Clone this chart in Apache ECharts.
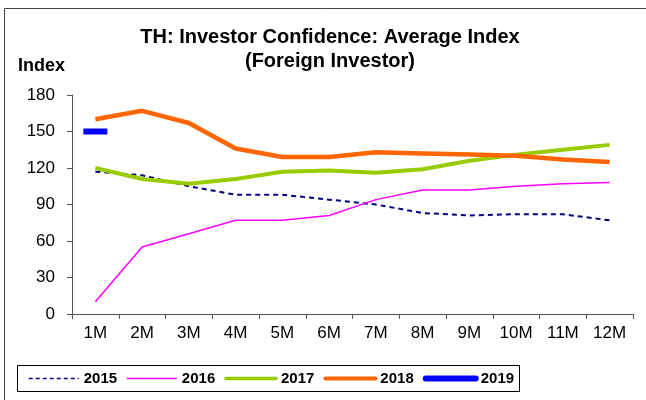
<!DOCTYPE html>
<html>
<head>
<meta charset="utf-8">
<script src="https://cdn.jsdelivr.net/npm/echarts@6/dist/echarts.min.js"></script>
<style>
  html, body { margin: 0; padding: 0; background: #fff; }
  #main { width: 646px; height: 400px; }
</style>
</head>
<body>
<div id="main"></div>
<script>
	/*************** TH investor confidence, foreign investor **************/
	var months = ['1M','2M','3M','4M','5M','6M','7M','8M','9M','10M','11M','12M'];
	var yTicks = [0, 30, 60, 90, 120, 150, 180];
	var y2015 = [117, 114, 105, 98, 98, 94, 90, 83, 81, 82, 82, 77];
	var y2016 = [10, 55, 66, 77, 77, 81, 94, 102, 102, 105, 107, 108];
	var y2017 = [120, 111, 107, 111, 117, 118, 116, 119, 126, 131, 135, 139];
	var y2018 = [160, 167, 157, 136, 129, 129, 133, 132, 131, 130, 127, 125];
	var y2019 = [150, null, null, null, null, null, null, null, null, null, null, null];

	var font = 'Liberation Sans, Arial, sans-serif';
	var chart = echarts.init(document.getElementById('main'));
	var opt = {
		animation: false,
		title: {
			text: 'TH: Investor Confidence: Average Index\n(Foreign Investor)',
			left: 325,
			top: 20,
			textAlign: 'center',
			textStyle: {
				fontFamily: font,
				fontSize: 20,
				fontWeight: 'bold',
				color: '#000',
				lineHeight: 24
			}
		},
		graphic: [
			{ type: 'polyline', shape: { points: [[4.5, 400], [4.5, 8.5], [646, 8.5]] },
			  style: { stroke: '#444', lineWidth: 1, fill: null } },
			{ type: 'text', left: 18, top: 57,
			  style: { text: 'Index', font: 'bold 18px ' + font, fill: '#000' } },
			{ type: 'rect', shape: { x: 17.5, y: 365.5, width: 502, height: 26 },
			  style: { stroke: '#000', lineWidth: 1, fill: null } }
		],
		legend: {
			left: 23,
			top: 366,
			itemWidth: 50,
			itemHeight: 14,
			itemGap: 9,
			textStyle: { fontFamily: font, fontSize: 15, fontWeight: 'bold', color: '#000' },
			data: [
				{ name: '2015', itemStyle: { opacity: 0 }, lineStyle: { width: 1.5, type: [4, 3], color: '#000080' } },
				{ name: '2016', itemStyle: { opacity: 0 }, lineStyle: { width: 1.5, color: '#ff00ff' } },
				{ name: '2017', itemStyle: { opacity: 0 }, lineStyle: { width: 3.5, color: '#99cc00', cap: 'round' } },
				{ name: '2018', itemStyle: { opacity: 0 }, lineStyle: { width: 4, color: '#ff6600', cap: 'round' } },
				{ name: '2019', itemStyle: { opacity: 0 }, lineStyle: { width: 6, color: '#0000ff', cap: 'round' } }
			]
		},
		grid: { left: 72, right: 13, top: 95, bottom: 86 },
		xAxis: {
			type: 'category',
			data: months,
			boundaryGap: true,
			axisLine: { lineStyle: { color: '#555', width: 1 } },
			axisTick: { show: true, length: 5, lineStyle: { color: '#555' } },
			axisLabel: { fontFamily: font, fontSize: 17, color: '#000', margin: 11 },
			splitLine: { show: false }
		},
		yAxis: {
			type: 'value',
			min: yTicks[0],
			max: yTicks[yTicks.length - 1],
			interval: 30,
			axisLine: { show: true, lineStyle: { color: '#555', width: 1 } },
			axisTick: { show: true, length: 5, lineStyle: { color: '#555' } },
			axisLabel: { fontFamily: font, fontSize: 17, color: '#000', margin: 17 },
			splitLine: { show: false }
		},
		series: [
			{ name: '2015', type: 'line', data: y2015, symbol: 'none',
			  lineStyle: { color: '#000080', width: 2, type: [5, 4] }, itemStyle: { color: '#000080' } },
			{ name: '2016', type: 'line', data: y2016, symbol: 'none',
			  lineStyle: { color: '#ff00ff', width: 1.5 }, itemStyle: { color: '#ff00ff' } },
			{ name: '2017', type: 'line', data: y2017, symbol: 'none',
			  lineStyle: { color: '#99cc00', width: 4, join: 'round' }, itemStyle: { color: '#99cc00' } },
			{ name: '2018', type: 'line', data: y2018, symbol: 'none',
			  lineStyle: { color: '#ff6600', width: 4.5, join: 'round' }, itemStyle: { color: '#ff6600' } },
			{ name: '2019', type: 'line', data: y2019, symbol: 'rect', symbolSize: [24, 6],
			  showSymbol: true,
			  lineStyle: { color: '#0000ff', width: 6 }, itemStyle: { color: '#0000ff' } }
		]
	};
	chart.setOption(opt);
</script>
</body>
</html>
